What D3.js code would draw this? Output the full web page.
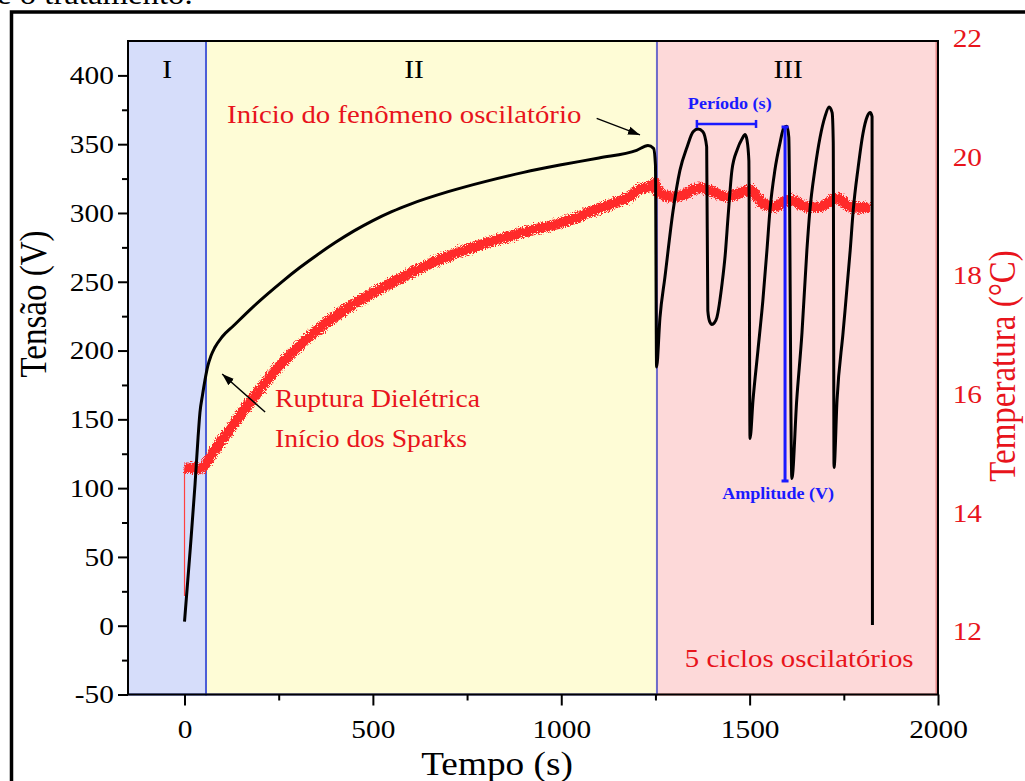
<!DOCTYPE html>
<html><head><meta charset="utf-8">
<script src="https://cdn.jsdelivr.net/npm/d3@7"></script>
<style>body{margin:0;background:#fff}svg{display:block}text{font-family:"Liberation Serif","Times New Roman",serif}</style>
</head><body>
<svg id="c" width="1025" height="781"></svg>
<script>
// ---------- data ----------
const xTicks = [0, 500, 1000, 1500, 2000];
const xMinor = [250, 750, 1250, 1750];
const yTicks = [-50, 0, 50, 100, 150, 200, 250, 300, 350, 400];
const yMinor = [-25, 25, 75, 125, 175, 225, 275, 325, 375];
const tempTicks = [12, 14, 16, 18, 20, 22];
const regionLabels = ["I", "II", "III"];
const regionBounds = [-150, 57, 1254, 1996];
const regionLabelT = [-46, 609, 1602];

// Tensão (V) vs Tempo (s)
const voltage = [
 [0,3],[15,55],[28,103],[36,137],[41,155],[48,168],[54,178],[62,189],[70,196],[80,202],[100,210],[130,218],[175,230],
 [220,241],[261,250.5],[307,260.5],[352,269.5],[400,278.5],[450,287],[500,294.5],[550,301],[600,306.5],[700,315.5],
 [800,323],[900,329.5],[1000,335],[1100,340],[1200,345.5],[1230,349],[1245,347],[1250,335],[1253,188],
 [1262,224],[1275,253],[1297,302],[1315,331],[1334,348],[1350,359],[1363,361],[1376,359],[1386,348],
 [1389,229],[1394,221],[1400,219],[1406,220],[1413,224],
 [1427,249],[1435,269],[1443,298],[1453,331],[1467,346],[1480,354],[1488,357],[1493,353],[1498,338],[1501,136],
 [1509,164],[1522,200],[1535,236],[1546,273],[1554,302],[1567,331],[1580,350],[1591,362],[1599,363],[1604,355],[1612,107],
 [1625,164],[1639,213],[1652,273],[1660,302],[1674,333],[1687,355],[1700,370],[1711,377],[1719,373],[1722,351],[1724,115],
 [1732,164],[1748,213],[1767,273],[1775,302],[1788,333],[1801,358],[1812,370],[1820,373],[1825,370],[1826,0.5]
];
// Temperatura (°C) vs Tempo (s)
const tempStart = [[0,12.6],[0,14.76]];
const temperature = [
 [0,14.76],[20,14.76],[41,14.74],[60,14.86],[86,15.11],[129,15.48],[174,15.87],[261,16.54],[352,17.08],
 [439,17.48],[527,17.8],[617,18.1],[705,18.34],[792,18.53],[917,18.76],[1005,18.9],[1103,19.14],
 [1183,19.34],[1209,19.46],[1236,19.5],[1249,19.56],[1254,19.42],[1297,19.33],[1323,19.36],[1368,19.48],
 [1403,19.41],[1440,19.33],[1474,19.39],[1501,19.44],[1535,19.22],[1562,19.16],[1607,19.28],[1652,19.16],
 [1687,19.16],[1732,19.31],[1767,19.16],[1820,19.14]
];
// annotation anchors (data units)
const periodT = [1360, 1517], periodV = 364.7;
const amplitudeT = 1594, amplitudeV = [362.5, 105.2];
const arrow1 = [[1094, 368.8], [1209, 356.7]];
const arrow2 = [[214, 155.3], [100, 182.9]];

// ---------- setup ----------
const SX = 1.13;
const svg = d3.select("#c");
const x = d3.scaleLinear().domain([-150, 2000]).range([128, 938]);
const y = d3.scaleLinear().domain([-50, 425]).range([694.5, 41]);
const yT = d3.scaleLinear().domain([10.94, 21.955]).range([694.5, 41]);
const pTop = 41, pBottom = 694.5, pLeft = 128, pRight = 938;
const fmt = d => String(d);

const defs = svg.append("defs");
const f = defs.append("filter").attr("id","rough").attr("x","-5%").attr("y","-20%").attr("width","110%").attr("height","140%");
f.append("feTurbulence").attr("type","fractalNoise").attr("baseFrequency","1.1").attr("numOctaves",2).attr("seed",3).attr("result","n");
f.append("feDisplacementMap").attr("in","SourceGraphic").attr("in2","n").attr("scale",8).attr("xChannelSelector","R").attr("yChannelSelector","G");
defs.append("marker").attr("id","ah").attr("viewBox","0 0 10 10").attr("refX",10).attr("refY",5)
  .attr("markerWidth",12).attr("markerHeight",12).attr("markerUnits","userSpaceOnUse").attr("orient","auto")
  .append("path").attr("d","M0,1.5L10,5L0,8.5Z").attr("fill","#000");

function txt(px, py, s, o) {
  o = o || {};
  const r = o.rot ? " rotate(-90)" : "";
  return svg.append("text").attr("transform", `translate(${px},${py}) scale(${SX},1)${r}`)
    .attr("font-size", o.size || 26).attr("fill", o.fill || "#000")
    .attr("font-weight", o.bold ? "bold" : null)
    .attr("text-anchor", o.anchor || "start").text(s);
}

// outer frame & page text
svg.append("path").attr("d","M11.5,781 V12 H1025").attr("fill","none").attr("stroke","#000").attr("stroke-width",3.5);
txt(-3, 4, "e o tratamento.", {size: 29});

// regions
const regFill = ["#d6ddfa", "#fefcd6", "#fdd9d9"];
const regStroke = ["#4c5ed6", "#6d6dcc", "#e38989"];
[2,1,0].forEach(i => {
  svg.append("rect").attr("x", x(regionBounds[i])).attr("y", pTop)
    .attr("width", x(regionBounds[i+1]) - x(regionBounds[i])).attr("height", pBottom - pTop)
    .attr("fill", regFill[i]).attr("stroke", regStroke[i]).attr("stroke-width", 2);
});
regionLabels.forEach((l, i) => txt(x(regionLabelT[i]), y(398), l, {size: 26, anchor: "middle"}));

// curves
const line = d3.line().x(d => x(d[0])).y(d => yT(d[1]));
svg.append("path").datum(tempStart).attr("d", line).attr("fill","none").attr("stroke","#ff4040").attr("stroke-width",1.2);
svg.append("path").datum(temperature).attr("d", line.curve(d3.curveMonotoneX)).attr("fill","none")
  .attr("stroke","#ff2a2a").attr("stroke-width",10.5).attr("stroke-linejoin","round").attr("filter","url(#rough)");
const vline = d3.line().x(d => x(d[0])).y(d => y(d[1])).curve(d3.curveMonotoneX);
svg.append("path").datum(voltage).attr("d", vline).attr("fill","none")
  .attr("stroke","#000").attr("stroke-width",3).attr("stroke-linejoin","round");

// axes
const ax = svg.append("g").attr("transform", `translate(0,${pBottom})`)
  .call(d3.axisBottom(x).tickValues(xTicks).tickSize(11).tickPadding(14).tickFormat(fmt));
ax.select(".domain").remove();
ax.selectAll("text").attr("font-size", 26).attr("font-family", "Liberation Serif").attr("transform", `scale(${SX},1)`);
svg.append("g").attr("transform", `translate(0,${pBottom})`)
  .call(d3.axisBottom(x).tickValues(xMinor).tickSize(6).tickFormat("")).select(".domain").remove();

const ay = svg.append("g").attr("transform", `translate(${pLeft},0)`)
  .call(d3.axisLeft(y).tickValues(yTicks).tickSize(10).tickPadding(2.5).tickFormat(fmt));
ay.select(".domain").remove();
ay.selectAll("text").attr("font-size", 26).attr("font-family", "Liberation Serif").attr("transform", `scale(${SX},1)`);
svg.append("g").attr("transform", `translate(${pLeft},0)`)
  .call(d3.axisLeft(y).tickValues(yMinor).tickSize(6).tickFormat("")).select(".domain").remove();

const ar = svg.append("g").attr("transform", `translate(${pRight},0)`)
  .call(d3.axisRight(yT).tickValues(tempTicks).tickSize(0).tickPadding(13).tickFormat(fmt));
ar.select(".domain").remove();
ar.selectAll("text").attr("font-size", 26).attr("font-family", "Liberation Serif").attr("fill", "#e8141c").attr("transform", `scale(${SX},1)`);
svg.selectAll(".tick line").attr("stroke", "#000").attr("stroke-width", 2);

// frame lines
svg.append("path").attr("d", `M${pLeft},${pBottom} V${pTop} H${pRight} V${pBottom} H${pLeft}`)
  .attr("fill","none").attr("stroke","#000").attr("stroke-width",2);

// titles
txt(497, 775, "Tempo (s)", {size: 33, anchor: "middle"});
txt(46, 304, "Tensão (V)", {size: 33, anchor: "middle", rot: true});
txt(1015, 366, "Temperatura (°C)", {size: 33, anchor: "middle", rot: true, fill: "#e8141c"});

// annotations
const red = "#e8141c", blue = "#1a1aff";
txt(x(113), y(365.4), "Início do fenômeno oscilatório", {size: 25.5, fill: red});
txt(x(240), y(159), "Ruptura Dielétrica", {size: 24.5, fill: red});
txt(x(240), y(130), "Início dos Sparks", {size: 24.5, fill: red});
txt(x(1328), y(-30), "5 ciclos oscilatórios", {size: 25.5, fill: red});
txt(x(1336), y(375.6), "Período (s)", {size: 16, fill: blue, bold: true});
txt(x(1427), y(92.1), "Amplitude (V)", {size: 16, fill: blue, bold: true});

[arrow1, arrow2].forEach(a => {
  svg.append("line").attr("x1", x(a[0][0])).attr("y1", y(a[0][1])).attr("x2", x(a[1][0])).attr("y2", y(a[1][1]))
    .attr("stroke","#000").attr("stroke-width",1.4).attr("marker-end","url(#ah)");
});

// period bracket
const pg = svg.append("g").attr("stroke", blue).attr("stroke-width", 2.5);
pg.append("line").attr("x1", x(periodT[0])).attr("x2", x(periodT[1])).attr("y1", y(periodV)).attr("y2", y(periodV));
periodT.forEach(t => pg.append("line").attr("x1", x(t)).attr("x2", x(t)).attr("y1", y(periodV) - 4).attr("y2", y(periodV) + 4));
// amplitude bar
const ag = svg.append("g").attr("stroke", blue).attr("stroke-width", 3);
ag.append("line").attr("x1", x(amplitudeT)).attr("x2", x(amplitudeT)).attr("y1", y(amplitudeV[0])).attr("y2", y(amplitudeV[1]));
amplitudeV.forEach(v => ag.append("line").attr("x1", x(amplitudeT) - 3.5).attr("x2", x(amplitudeT) + 3.5).attr("y1", y(v)).attr("y2", y(v)));
</script>
</body></html>
